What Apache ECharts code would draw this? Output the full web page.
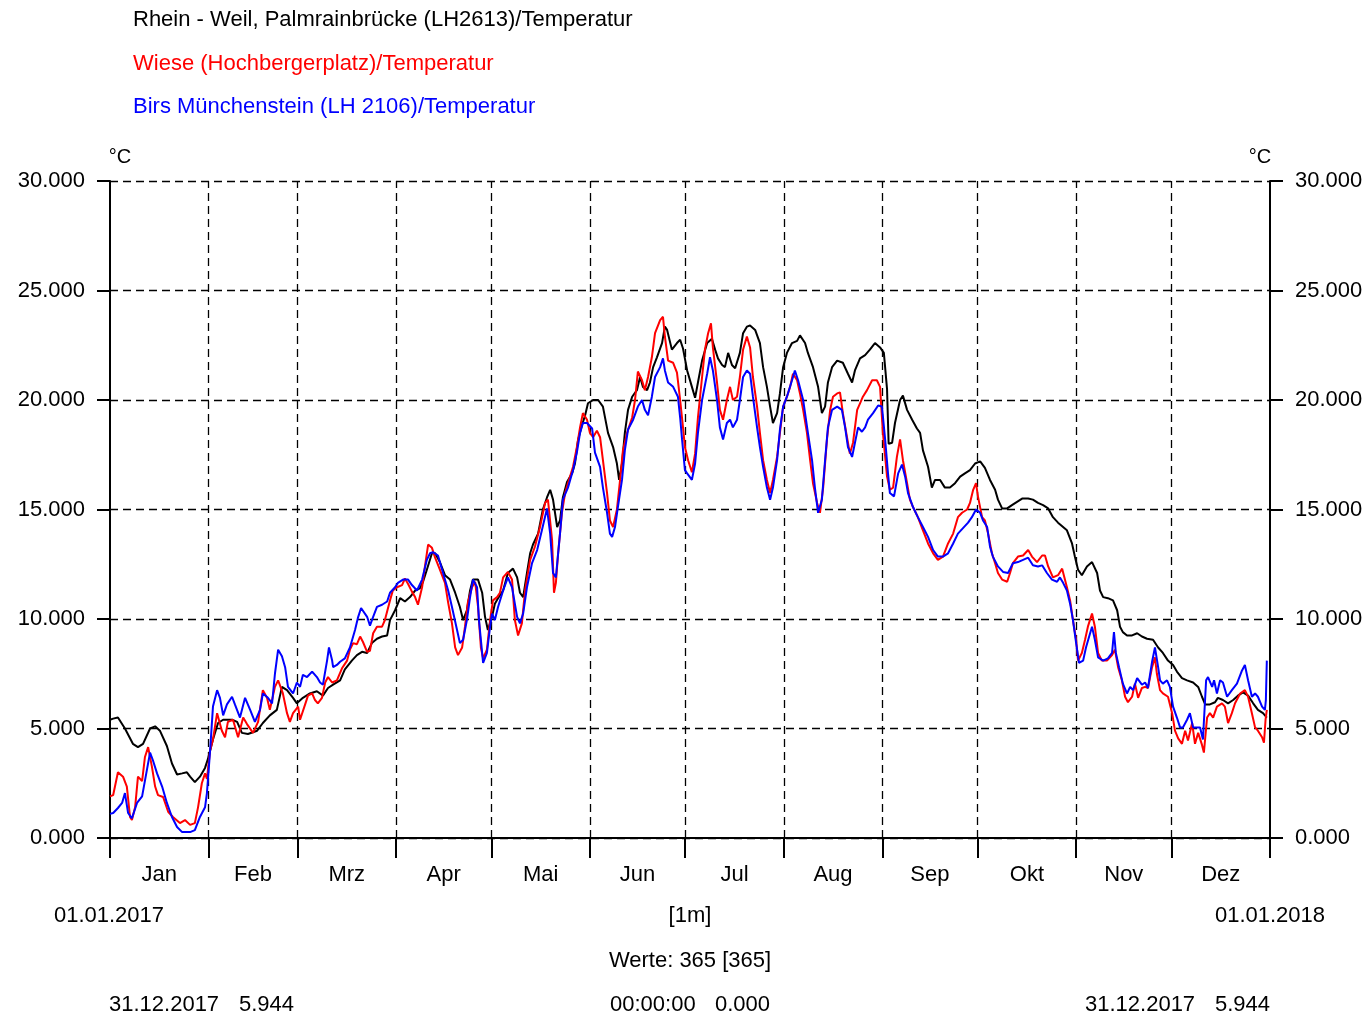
<!DOCTYPE html>
<html>
<head>
<meta charset="utf-8">
<script src="https://cdn.jsdelivr.net/npm/echarts@6/dist/echarts.min.js"></script>
<style>
html,body{margin:0;padding:0;background:#fff;}
#chart{width:1369px;height:1018px;}
</style>
</head>
<body>
<div id="chart"></div>
<script>
// ---------- data (day of year 2017, °C) ----------
const monthNames = ['Jan','Feb','Mrz','Apr','Mai','Jun','Jul','Aug','Sep','Okt','Nov','Dez'];
const monthStarts = [0,31,59,90,120,151,181,212,243,273,304,334,365];
const yMin = 0, yMax = 30, yStep = 5;

const seriesNames = [
  'Rhein - Weil, Palmrainbrücke (LH2613)/Temperatur',
  'Wiese (Hochbergerplatz)/Temperatur',
  'Birs Münchenstein (LH 2106)/Temperatur'
];

const rhein = [
[0,5.4],[1,5.45],[2.5,5.5],[4.7,5.0],[7.2,4.3],[8.8,4.15],[10.4,4.3],[12.6,5.0],[14.2,5.1],[15.7,4.9],[17.9,4.2],[19.5,3.4],[21.1,2.9],[22.7,2.95],[24.2,3.0],[25.2,2.8],[26.7,2.55],[28.3,2.8],[29.9,3.2],[30.8,3.6],[31.5,4.0],[32.4,4.5],[34,5.25],[35.6,5.4],[38.4,5.4],[40,5.3],[41.5,4.8],[43.4,4.75],[46.3,4.9],[48.1,5.25],[50.3,5.6],[52.5,5.85],[54.1,6.9],[55.7,6.75],[57.6,6.4],[58.8,6.15],[60.7,6.4],[62.9,6.6],[65.1,6.7],[67,6.5],[68.6,6.85],[70.2,7.0],[72.4,7.2],[73.9,7.7],[76.1,8.1],[77.7,8.35],[79.3,8.5],[80.9,8.45],[82.4,8.9],[84,9.1],[85.6,9.2],[87.2,9.25],[88.1,9.95],[89.7,10.4],[91.3,10.95],[92.8,10.8],[94.4,11.0],[96,11.3],[97.5,11.4],[98.5,11.7],[99.7,12.25],[101.3,13.0],[102.3,13.0],[103.8,12.6],[105.4,12.0],[107,11.8],[108.6,11.2],[110.1,10.55],[111.1,9.95],[112.3,10.4],[113.3,11.3],[114.2,11.8],[115.8,11.8],[117.1,11.2],[118,10.1],[118.9,9.5],[120.2,10.1],[121.1,10.7],[122.1,10.95],[123.7,11.3],[125.2,12.1],[126.8,12.3],[128.1,11.9],[129,11.2],[130,11.0],[131.2,12.1],[132.2,13.0],[133.1,13.4],[134.7,13.9],[136.2,15.0],[137.5,15.55],[138.5,15.9],[139.4,15.45],[140.7,14.2],[141.6,14.5],[142.5,15.55],[143.8,16.25],[145.4,16.65],[146.3,17.1],[147.3,18.2],[148.5,18.85],[149.5,19.3],[150.4,19.85],[152,20.0],[153.6,20.0],[155.1,19.7],[156.7,18.5],[158.3,17.85],[159.5,17.1],[160.2,16.35],[161.1,17.1],[162,18.5],[163,19.55],[164.3,20.15],[165.8,20.45],[166.8,21.05],[167.7,20.6],[169,20.45],[169.9,20.8],[170.9,21.5],[172.1,21.95],[173.7,22.6],[174.6,23.35],[175.3,23.2],[176.8,22.3],[178.4,22.6],[179.4,22.75],[180.3,22.35],[181.6,21.35],[183.1,20.6],[184.1,20.1],[185,20.8],[186.3,21.8],[187.9,22.6],[189.4,22.8],[190.4,22.3],[191.3,21.9],[192.6,21.6],[193.5,21.5],[194.5,22.15],[195.7,21.6],[196.7,21.45],[198.2,22.15],[199.2,23.05],[200.4,23.35],[201.4,23.4],[203,23.2],[204.5,22.6],[205.5,21.5],[206.7,20.6],[207.7,19.7],[208.6,18.95],[209.9,19.4],[210.8,20.3],[211.8,21.5],[213,22.15],[214.6,22.6],[216.2,22.7],[217.1,22.95],[218.7,22.6],[219.6,22.15],[221.2,21.5],[222.8,20.6],[224,19.4],[225,19.7],[225.9,20.8],[227.2,21.5],[228.8,21.8],[230.6,21.7],[232.2,21.2],[233.5,20.8],[234.4,21.35],[236,21.9],[237.6,22.05],[239.1,22.3],[240.7,22.6],[242.3,22.4],[243.5,22.15],[244.5,20.5],[245,18.0],[246.1,18.05],[247,18.95],[248.6,20.0],[249.5,20.2],[250.8,19.55],[252.4,19.1],[253.9,18.7],[254.9,18.5],[255.8,17.7],[257.4,16.95],[258.6,16.0],[259.6,16.35],[261.2,16.35],[262.7,16.0],[264.3,16.0],[265.9,16.2],[267.5,16.5],[269,16.65],[270.6,16.8],[272.2,17.1],[273.8,17.2],[275.3,16.9],[276.9,16.35],[278.5,15.9],[279.4,15.45],[280.7,15.05],[282.3,15.05],[283.8,15.2],[285.4,15.35],[287,15.5],[288.9,15.5],[290.4,15.45],[292,15.3],[293.6,15.2],[295.2,15.05],[296.7,14.65],[298.3,14.4],[301.1,14.05],[302.7,13.45],[303.6,12.85],[304.6,12.25],[305.8,12.0],[307.4,12.4],[309,12.6],[310.6,12.1],[311.5,11.3],[312.5,11.0],[314,10.95],[315.6,10.85],[316.9,10.4],[317.8,9.65],[318.7,9.4],[320,9.25],[321.6,9.25],[323.2,9.35],[324.7,9.2],[326.3,9.1],[328.2,9.05],[329.8,8.7],[331.3,8.45],[332.9,8.1],[334.5,7.9],[335.7,7.6],[337.3,7.3],[338.9,7.2],[340.8,7.1],[342.4,6.9],[343.6,6.45],[344.6,6.1],[346.1,6.1],[347.7,6.2],[348.6,6.4],[350.2,6.3],[351.8,6.15],[353.4,6.3],[354.9,6.5],[356.5,6.65],[358.1,6.5],[359.7,6.15],[361.2,5.85],[362.8,5.7],[364,5.5]
];

const wiese = [
[0,1.9],[1,1.96],[2.5,3.0],[4.1,2.8],[5.3,2.35],[6.3,0.96],[6.9,0.82],[7.9,1.4],[8.8,2.8],[10.1,2.6],[11,3.7],[12,4.15],[13.2,3.25],[14.2,2.35],[15.1,1.96],[16.7,1.87],[18.3,1.2],[19.8,0.96],[22,0.68],[23.6,0.82],[25.2,0.6],[26.7,0.68],[27.7,1.4],[28.9,2.5],[29.9,2.95],[30.5,2.7],[31.5,4.0],[32.4,4.5],[33.7,5.7],[35.2,4.9],[36.2,4.6],[37.1,5.3],[38.7,5.4],[40.3,4.6],[41.9,5.5],[43.1,5.2],[45,4.8],[46.6,5.3],[48.1,6.75],[49.4,6.4],[50.3,5.85],[51.9,6.9],[52.9,7.2],[54.4,6.6],[55.7,5.7],[56.6,5.3],[57.6,5.7],[59.2,6.0],[59.8,5.4],[61.4,6.1],[62.3,6.5],[63.6,6.6],[64.5,6.3],[65.4,6.15],[66.7,6.4],[67.7,7.1],[68.6,7.35],[69.9,7.1],[71.4,7.2],[73,7.75],[74.6,8.1],[75.5,8.6],[76.5,8.9],[77.7,8.85],[78.7,9.2],[79.6,8.95],[80.9,8.5],[81.8,8.55],[82.8,9.35],[84,9.65],[85.6,9.65],[86.5,9.95],[88.1,10.85],[89,11.3],[90.3,11.45],[91.9,11.55],[92.8,11.85],[93.8,11.6],[95,11.25],[96,11.0],[96.9,10.65],[98.2,11.45],[99.1,12.4],[100.1,13.4],[101.3,13.25],[102.3,12.8],[103.8,12.25],[105.4,11.65],[106.4,10.75],[107.6,9.8],[108.6,8.7],[109.5,8.35],[110.8,8.7],[111.7,9.65],[112.6,10.75],[113.9,11.45],[114.9,11.7],[115.8,10.55],[116.7,8.7],[117.4,8.2],[118.6,8.6],[119.6,9.95],[120.5,10.85],[121.8,11.0],[122.7,11.2],[123.7,11.9],[125.2,12.15],[126.5,11.8],[127.4,9.95],[128.4,9.25],[129.6,9.8],[130.6,11.3],[132.2,12.7],[133.7,13.3],[135.3,14.2],[136.9,15.3],[137.8,15.45],[139.1,13.6],[139.7,11.2],[140.3,11.65],[141,13.0],[142.2,14.85],[143.2,15.75],[144.1,16.2],[145.7,16.95],[146.9,17.85],[147.9,18.75],[148.8,19.4],[150.1,19.1],[151,18.5],[152,18.3],[153.2,18.6],[154.2,18.3],[155.1,17.25],[156.4,15.75],[157.3,14.5],[158.3,14.2],[159.5,15.0],[160.5,16.35],[161.4,17.7],[162.7,18.5],[164.3,19.2],[165.2,20.0],[166.1,21.3],[167.4,20.9],[168.3,20.45],[169.3,21.05],[170.5,21.95],[171.5,23.05],[173.1,23.65],[174,23.8],[174.6,22.9],[175.6,21.8],[177.2,21.7],[178.4,21.25],[179.4,20.0],[180.3,18.75],[180.9,17.85],[181.9,17.25],[183.1,16.7],[184.1,17.55],[185,19.2],[186.3,21.05],[187.2,22.3],[188.2,23.05],[189.1,23.5],[189.7,22.4],[191,20.8],[191.9,19.55],[192.9,19.1],[194.1,20.0],[195.1,20.6],[196,20.0],[197.3,20.15],[198.2,21.05],[199.2,22.3],[200.4,22.9],[201.4,22.4],[202.3,21.05],[203.6,19.7],[204.5,18.5],[205.5,17.25],[206.7,16.35],[207.7,15.75],[208.6,16.35],[209.9,17.4],[210.8,18.5],[211.8,19.7],[213,20.15],[214,20.6],[214.9,21.2],[216.2,20.9],[217.1,20.3],[218.1,19.55],[219.3,18.5],[220.3,17.25],[221.2,16.2],[222.5,15.3],[223.4,14.85],[224.4,16.0],[225.6,18.2],[226.6,19.55],[227.5,20.15],[228.8,20.3],[229.7,20.35],[230.6,19.4],[231.9,18.3],[232.8,17.55],[233.8,18.05],[235.1,19.55],[236,19.85],[236.9,20.15],[238.2,20.45],[239.8,20.9],[241.3,20.9],[242.3,20.6],[243.2,18.5],[244.5,16.5],[245.4,15.9],[246.4,16.0],[247.6,17.4],[248.6,18.2],[249.5,17.25],[250.8,16.2],[251.7,15.45],[252.7,15.1],[254.2,14.65],[255.8,14.05],[257.4,13.45],[259,13.0],[260.5,12.7],[262.1,12.85],[263.7,13.45],[265.3,13.9],[266.8,14.65],[268.1,14.85],[269.7,15.0],[270.6,15.3],[271.6,15.9],[272.5,16.2],[273.1,15.6],[274.4,14.65],[275.3,14.5],[276.3,13.9],[277.5,13.0],[278.5,12.55],[279.4,12.1],[280.7,11.8],[282.3,11.7],[283.2,12.1],[284.1,12.55],[285.7,12.85],[287.3,12.9],[288.9,13.15],[290.1,12.85],[291.7,12.6],[293.3,12.9],[294.2,12.9],[295.2,12.4],[296.7,11.9],[298.3,12.0],[299.6,12.3],[301.1,11.45],[302.1,10.85],[303,9.95],[304,9.05],[304.6,8.1],[305.8,8.45],[306.8,9.05],[307.7,9.65],[309,10.25],[309.9,9.65],[310.9,8.45],[312.1,8.1],[313.7,8.1],[315.3,8.35],[316.2,8.6],[317.2,7.8],[318.4,7.2],[319.4,6.45],[320.3,6.2],[321.6,6.45],[322.5,7.05],[323.5,6.4],[324.7,6.85],[325.7,6.9],[326.6,6.85],[327.9,7.8],[328.8,8.25],[329.4,7.5],[330.4,6.75],[331.3,6.6],[332.9,6.45],[334.2,5.7],[335.1,4.9],[336.1,4.55],[337.3,4.3],[338.3,4.9],[339.2,4.45],[340.5,5.25],[341.4,4.3],[342.4,4.8],[343.6,4.25],[344.2,3.9],[345.2,5.5],[346.1,5.7],[347.1,5.5],[348.3,6.0],[349.9,6.15],[350.8,6.0],[351.8,5.25],[353,5.7],[354,6.15],[355.6,6.6],[357.1,6.75],[358.1,6.45],[359.3,5.7],[360.3,5.05],[361.2,4.9],[362.5,4.6],[363.1,4.35],[363.6,5.4],[364,5.85]
];

const birs = [
[0,1.1],[1,1.14],[2.5,1.37],[3.8,1.6],[4.7,2.05],[5.7,1.14],[6.9,0.9],[8.5,1.6],[10.1,1.9],[11.6,3.1],[12.6,3.9],[13.5,3.55],[14.8,2.95],[16.4,2.35],[17.9,1.6],[19.5,0.96],[21.1,0.5],[22.7,0.27],[25.2,0.27],[26.7,0.36],[28.3,0.96],[29.9,1.4],[30.5,2.05],[31.5,4.0],[32.4,6.0],[33.7,6.75],[34.6,6.4],[35.6,5.6],[36.8,6.1],[38.4,6.45],[39.3,6.1],[40.9,5.5],[42.5,6.4],[44.1,5.85],[45.6,5.3],[47.2,5.85],[48.1,6.6],[49.7,6.4],[51,6.15],[51.9,7.5],[52.9,8.6],[54.1,8.3],[55.1,7.8],[56,6.9],[57.6,6.6],[58.8,7.1],[59.8,6.9],[60.7,7.45],[62,7.35],[63.6,7.6],[65.1,7.35],[66.1,7.1],[67,7.0],[68.3,8.1],[68.9,8.7],[69.9,8.1],[70.2,7.8],[71.4,7.9],[72.4,8.05],[73.9,8.2],[75.5,8.7],[77.1,9.5],[78,10.05],[79,10.5],[79.6,10.5],[80.9,10.1],[81.8,9.7],[82.8,10.1],[84,10.55],[85.6,10.65],[87.2,10.8],[88.1,11.2],[89.7,11.45],[90.6,11.65],[92.2,11.8],[93.8,11.8],[95,11.55],[96.6,11.3],[98.2,11.8],[99.7,12.7],[100.7,13.0],[101.6,13.05],[103.2,12.9],[104.8,12.1],[106.4,11.3],[107.6,10.55],[109.2,9.5],[110.1,8.9],[111.1,9.05],[112.3,9.95],[113.3,11.0],[114.2,11.8],[115.5,11.45],[116.1,9.95],[117.4,8.0],[118.6,8.45],[119.6,9.65],[120.2,10.25],[121.1,9.95],[122.1,10.55],[123.7,11.3],[125.2,11.9],[126.5,11.45],[128.1,10.1],[129,9.8],[130,10.25],[131.2,11.45],[132.8,12.55],[134.4,13.15],[135.9,14.05],[137.5,15.05],[138.5,13.9],[139.4,12.1],[140.3,11.9],[141.6,13.9],[142.5,15.45],[144.1,16.0],[145.7,16.8],[146.9,17.6],[147.9,18.5],[148.8,18.95],[150.1,18.95],[151.7,18.7],[152.6,17.6],[154.2,16.95],[155.1,16.0],[156.4,14.85],[157.3,13.9],[158,13.75],[158.9,14.2],[159.8,15.1],[161.1,16.35],[162,17.7],[163,18.65],[164.6,19.1],[166.1,19.7],[167.4,20.0],[168.3,19.55],[169.3,19.3],[170.5,20.15],[171.5,21.05],[173.1,21.5],[174,21.9],[174.6,21.35],[175.6,20.8],[177.2,20.6],[178.7,20.15],[179.4,19.2],[180,18.2],[180.9,16.8],[181.6,16.65],[183.1,16.35],[184.1,17.1],[185,18.5],[186.3,20.0],[187.9,21.2],[188.8,21.95],[189.7,21.35],[191,20.0],[191.9,18.75],[192.9,18.2],[194.1,18.95],[195.1,19.1],[196,18.75],[197.3,19.1],[198.2,20.0],[199.2,21.05],[200.4,21.35],[201.4,21.2],[202.3,20.15],[203.6,18.75],[204.5,17.85],[205.5,16.95],[206.7,16.0],[207.7,15.45],[208.6,16.0],[209.9,17.25],[210.8,18.65],[211.8,19.7],[213,20.15],[214.6,20.9],[215.5,21.35],[216.5,20.9],[218.1,20.0],[219.6,18.5],[220.9,17.25],[221.8,16.0],[222.8,14.85],[224,15.45],[225,17.25],[225.9,18.75],[227.2,19.55],[228.8,19.7],[230.3,19.55],[231.3,18.75],[232.2,17.85],[233.5,17.4],[234.4,18.05],[235.4,18.75],[236.6,18.55],[237.6,18.75],[238.5,19.1],[240.1,19.4],[241.7,19.75],[242.9,19.7],[243.9,18.2],[244.8,16.65],[245.4,15.75],[246.7,15.6],[248,16.65],[249.2,17.05],[250.2,16.5],[251.1,15.75],[252.7,15.1],[254.2,14.65],[255.8,14.2],[257.4,13.75],[259,13.15],[260.5,12.85],[262.1,12.85],[263.7,13.0],[265.3,13.45],[266.8,13.9],[268.4,14.15],[270,14.4],[271.2,14.65],[272.5,15.0],[273.8,14.85],[274.7,14.5],[276,14.2],[276.9,13.3],[277.8,12.85],[279.4,12.4],[281,12.15],[282.6,12.1],[284.1,12.55],[285.7,12.6],[287.3,12.7],[288.9,12.8],[290.4,12.45],[292,12.4],[293.3,12.45],[294.8,12.1],[296.4,11.8],[298,11.7],[298.9,11.9],[299.9,11.65],[301.1,11.3],[302.1,10.7],[303,9.95],[304,8.9],[304.9,8.0],[306.2,8.1],[307.1,8.7],[308.1,9.2],[309,9.65],[309.9,9.05],[310.9,8.25],[312.5,8.1],[314,8.2],[315.3,8.45],[315.9,9.4],[316.5,8.45],[317.5,7.8],[318.7,7.05],[320,6.6],[321,6.9],[321.9,6.75],[323.2,7.3],[324.7,7.0],[325.7,7.1],[326.6,6.85],[327.9,8.05],[328.8,8.7],[329.8,7.8],[330.4,7.2],[331.3,7.05],[332.6,7.2],[333.5,6.9],[334.5,6.0],[335.7,5.5],[336.7,5.05],[337.6,5.05],[338.9,5.4],[339.8,5.7],[340.8,5.05],[342,5.05],[343,5.05],[343.9,4.5],[344.9,7.2],[345.5,7.35],[346.8,6.9],[347.4,7.2],[348.3,6.6],[349.3,7.2],[350.2,7.1],[351.5,6.45],[353,6.75],[354.6,7.05],[356.2,7.65],[357.1,7.9],[358.1,7.2],[359.3,6.45],[360.3,6.6],[361.2,6.45],[362.5,6.0],[363.4,5.85],[363.7,6.3],[364,8.1]
];

// ---------- chart ----------
const FONT = "'Liberation Sans', Arial, Helvetica, sans-serif";
const FS = 22;
const DASH = [8, 5];
const monthMids = monthStarts.slice(0, -1).map((s, i) => (s + monthStarts[i + 1]) / 2);
const colors = ['#000000', '#ff0000', '#0000ff'];

const chart = echarts.init(document.getElementById('chart'), null, {renderer: 'canvas'});

function yAxisCfg(pos) {
  return {
    type: 'value', position: pos, min: yMin, max: yMax, interval: yStep,
    name: '°C', nameLocation: 'end', nameGap: 14,
    nameTextStyle: {color: '#000', fontSize: FS - 2, fontFamily: FONT,
      padding: pos === 'left' ? [0, 0, 0, 20] : [0, 20, 0, 0]},
    axisLine: {show: true, lineStyle: {color: '#000', width: 2}},
    axisTick: {show: true, inside: false, length: 13, lineStyle: {color: '#000', width: 2}},
    axisLabel: {color: '#000', fontSize: FS, fontFamily: FONT, margin: 25,
      formatter: v => v.toFixed(3)},
    splitLine: {show: pos === 'left', lineStyle: {color: '#000', width: 1.3, type: DASH}}
  };
}

const series = [rhein, wiese, birs].map((d, i) => ({
  name: seriesNames[i], type: 'line', data: d, showSymbol: false, symbol: 'none',
  yAxisIndex: 0, z: 2 + i,
  lineStyle: {color: colors[i], width: 2}, itemStyle: {color: colors[i]},
  emphasis: {disabled: true}
}));
series[0].markLine = {
  silent: true, z: 1, symbol: ['none', 'none'], label: {show: false},
  lineStyle: {color: '#000', width: 1.3, type: DASH},
  emphasis: {disabled: true},
  data: monthStarts.slice(1, -1).map(d => ({xAxis: d}))
};

const txt = (text, x, y, align) => ({
  type: 'text', x: x, y: y, silent: true,
  style: {text: text, fill: '#000', font: FS + 'px ' + FONT, align: align || 'left', verticalAlign: 'middle'}
});

const option = {
  animation: false,
  backgroundColor: '#ffffff',
  textStyle: {fontFamily: FONT},
  legend: {
    orient: 'vertical', left: 123, top: 4, itemGap: 21.5,
    itemWidth: 0, itemHeight: 0, icon: 'none', selectedMode: false,
    textStyle: {fontSize: FS, fontFamily: FONT},
    data: seriesNames.map((n, i) => ({name: n, icon: 'none', textStyle: {color: colors[i]}}))
  },
  grid: {left: 110, right: 99, top: 181, bottom: 180, containLabel: false},
  xAxis: {
    type: 'value', min: 0, max: 365,
    axisLine: {show: true, onZero: false, lineStyle: {color: '#000', width: 2}},
    axisTick: {show: true, customValues: monthStarts, length: 20, lineStyle: {color: '#000', width: 2}},
    axisLabel: {customValues: monthMids, color: '#000', fontSize: FS, fontFamily: FONT, margin: 26,
      formatter: v => monthNames[monthMids.indexOf(v)] || ''},
    splitLine: {show: false}
  },
  yAxis: [yAxisCfg('left'), yAxisCfg('right')],
  series: series,
  graphic: [
    txt('01.01.2017', 109, 916, 'center'),
    txt('[1m]', 690, 916, 'center'),
    txt('01.01.2018', 1270, 916, 'center'),
    txt('Werte: 365 [365]', 690, 961, 'center'),
    txt('31.12.2017', 109, 1005, 'left'),
    txt('5.944', 239, 1005, 'left'),
    txt('00:00:00', 610, 1005, 'left'),
    txt('0.000', 715, 1005, 'left'),
    txt('31.12.2017', 1085, 1005, 'left'),
    txt('5.944', 1270, 1005, 'right')
  ]
};
chart.setOption(option);
</script>
</body>
</html>
